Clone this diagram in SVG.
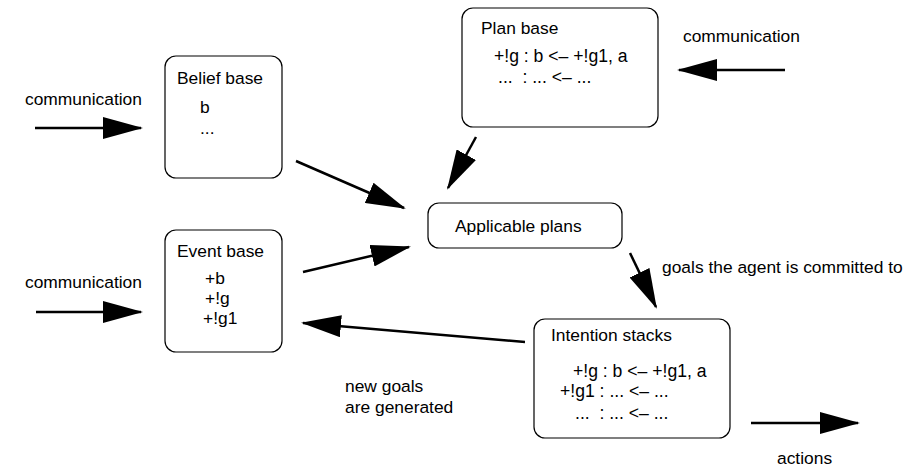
<svg xmlns="http://www.w3.org/2000/svg" width="922" height="472" viewBox="0 0 922 472">
<style>
.box{fill:#fff;stroke:#000;stroke-width:1.2}
text{font-family:"Liberation Sans",Arial,sans-serif;font-size:17.4px;fill:#000;white-space:pre}
.code{font-size:17.6px}
.arr{stroke:#000;stroke-width:2.5;fill:none;marker-end:url(#ah)}
</style>
<defs>
<marker id="ah" markerUnits="userSpaceOnUse" markerWidth="40" markerHeight="22" refX="38" refY="11" orient="auto" viewBox="0 0 40 22">
<path d="M0,0 L40,11 L0,22 z" fill="#000"/>
</marker>
</defs>
<rect width="922" height="472" fill="#fff"/>
<g id="belief-base">
<rect class="box" x="165" y="56" width="117" height="122" rx="11"/>
<text x="177" y="84">Belief base</text>
<text x="200" y="113">b</text>
<text x="200" y="134">...</text>
</g>
<g id="event-base">
<rect class="box" x="165" y="230" width="117" height="122" rx="11"/>
<text x="177" y="257">Event base</text>
<text x="205" y="284">+b</text>
<text x="205" y="304">+!g</text>
<text x="203" y="324">+!g1</text>
</g>
<g id="plan-base">
<rect class="box" x="462" y="8" width="196" height="119" rx="11"/>
<text x="481" y="34">Plan base</text>
<text class="code" x="494" y="62">+!g : b &lt;– +!g1, a</text>
<text class="code" x="498" y="83" xml:space="preserve">...  : ... &lt;– ...</text>
</g>
<g id="applicable-plans">
<rect class="box" x="428" y="203" width="194" height="45" rx="11"/>
<text x="455" y="232">Applicable plans</text>
</g>
<g id="intention-stacks">
<rect class="box" x="534" y="319" width="196" height="119" rx="11"/>
<text x="551" y="341">Intention stacks</text>
<text class="code" x="573" y="377">+!g : b &lt;– +!g1, a</text>
<text class="code" x="560" y="397">+!g1 : ... &lt;– ...</text>
<text class="code" x="575" y="419" xml:space="preserve">...  : ... &lt;– ...</text>
</g>
<g id="labels">
<text x="25" y="105">communication</text>
<text x="25" y="288">communication</text>
<text x="683" y="42">communication</text>
<text x="662" y="273">goals the agent is committed to</text>
<text x="345" y="392">new goals</text>
<text x="345" y="413">are generated</text>
<text x="777" y="464">actions</text>
</g>
<g id="connectors">
<line class="arr" x1="35" y1="128" x2="141" y2="128"/>
<line class="arr" x1="36" y1="312" x2="141" y2="312"/>
<line class="arr" x1="785" y1="70" x2="679" y2="70"/>
<line class="arr" x1="296" y1="161" x2="404" y2="208"/>
<line class="arr" x1="303" y1="272" x2="409" y2="247"/>
<line class="arr" x1="476" y1="137" x2="448" y2="188"/>
<line class="arr" x1="630" y1="253" x2="656" y2="307"/>
<line class="arr" x1="525" y1="342" x2="303" y2="323"/>
<line class="arr" x1="751" y1="423" x2="858" y2="423"/>
</g>
</svg>
